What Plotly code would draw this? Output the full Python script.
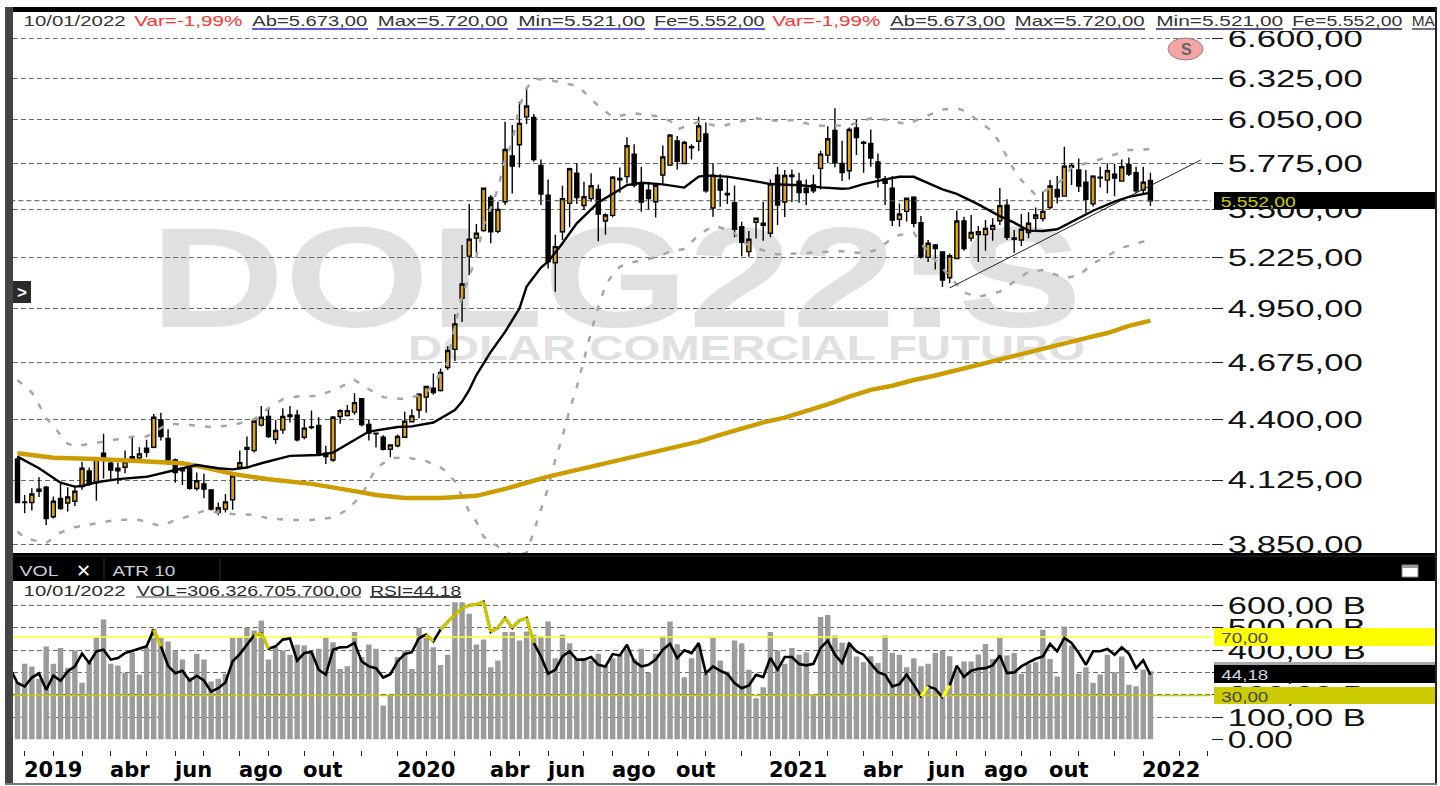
import json
import pandas as pd
import plotly.graph_objects as go

start = pd.Timestamp("2018-12-31")
dates = [start + pd.Timedelta(days=7 * i) for i in range(159)]

opens = [4217,4030,4027,4076,4093,3967,4045,4025,4033,4096,4165,4113,4244,4199,4166,4181,4229,4223,4267,4271,
4397,4311,4214,4177,4177,4088,4108,4082,3985,3999,4039,4181,4270,4256,4373,4413,4308,4351,4421,4419,
4317,4365,4371,4244,4214,4413,4418,4434,4497,4376,4336,4317,4262,4278,4317,4389,4444,4505,4548,4537,
4649,4740,5004,5234,5335,5378,5571,5374,5546,5822,5892,6070,6066,5764,5585,5197,5372,5536,5716,5524,
5564,5619,5433,5466,5685,5696,5834,5659,5615,5546,5706,5766,5916,5776,5880,5914,5960,5509,5679,5595,
5540,5401,5259,5426,5408,5363,5704,5544,5705,5669,5627,5645,5746,5828,5983,5777,5732,5998,5909,5901,
5785,5683,5627,5443,5489,5573,5424,5227,5296,5258,5115,5221,5433,5335,5355,5355,5386,5435,5525,5336,
5325,5367,5449,5447,5512,5619,5579,5764,5736,5663,5533,5693,5675,5711,5669,5768,5720,5615,5673]
highs = [4229,4060,4089,4137,4099,4053,4108,4093,4096,4206,4180,4221,4333,4206,4202,4256,4317,4271,4305,4425,
4431,4354,4220,4177,4184,4158,4152,4082,4027,4064,4147,4256,4320,4397,4463,4457,4397,4452,4463,4444,
4397,4441,4410,4278,4416,4447,4468,4524,4500,4397,4339,4326,4282,4330,4436,4447,4524,4559,4620,4645,
4755,4920,5296,5533,5416,5630,5585,5546,6038,6017,6168,6263,6088,5801,5679,5354,5641,5750,5776,5665,
5716,5649,5478,5700,5752,5939,5896,5756,5665,5655,5888,5960,5947,5918,5896,6070,6034,5776,5712,5696,
5643,5429,5376,5449,5544,5679,5756,5736,5740,5720,5679,5707,5855,6010,6125,5918,6002,6049,5918,5989,
5838,5699,5699,5536,5571,5579,5462,5325,5302,5260,5249,5493,5458,5468,5404,5439,5449,5627,5560,5382,
5474,5485,5512,5606,5675,5699,5880,5777,5807,5736,5705,5756,5777,5773,5801,5813,5756,5756,5720]
lows = [4025,3982,3993,4051,3932,3959,3996,3989,4013,4082,4099,4035,4132,4125,4108,4155,4206,4214,4226,4267,
4302,4191,4113,4103,4082,4079,4046,3993,3973,3985,3996,4172,4177,4247,4367,4314,4287,4333,4385,4297,
4308,4354,4236,4196,4206,4379,4413,4421,4367,4302,4270,4256,4226,4271,4313,4385,4405,4431,4516,4532,
4637,4682,4880,5130,5249,5372,5306,5363,5526,5595,5752,6024,5787,5526,5166,5040,5325,5397,5533,5497,
5546,5317,5354,5455,5599,5655,5630,5487,5501,5453,5651,5760,5740,5772,5801,5853,5599,5458,5516,5533,
5340,5234,5231,5333,5321,5340,5410,5456,5544,5540,5527,5596,5619,5777,5753,5669,5679,5828,5720,5756,
5631,5527,5404,5401,5430,5397,5221,5201,5160,5067,5085,5221,5264,5316,5201,5264,5321,5410,5325,5253,
5291,5335,5382,5430,5501,5536,5575,5645,5604,5478,5518,5631,5596,5579,5665,5699,5596,5596,5521]
closes = [4027,4027,4064,4085,3959,4033,4002,4051,4076,4177,4108,4217,4226,4169,4177,4206,4220,4241,4248,4410,
4320,4214,4158,4166,4089,4122,4085,3999,4005,4030,4143,4202,4262,4392,4410,4320,4348,4413,4413,4305,
4359,4362,4244,4229,4410,4441,4441,4479,4376,4336,4333,4262,4282,4320,4391,4416,4519,4556,4527,4625,
4734,4870,5081,5329,5363,5626,5372,5501,5863,5760,6028,6140,5801,5591,5203,5287,5564,5744,5571,5575,
5641,5474,5468,5692,5677,5886,5645,5544,5564,5643,5817,5953,5789,5907,5874,6012,5611,5704,5615,5587,
5386,5312,5329,5449,5420,5651,5526,5703,5697,5600,5600,5611,5834,5930,5781,5720,5989,5937,5901,5809,
5691,5655,5439,5474,5566,5420,5231,5306,5276,5103,5236,5433,5276,5367,5372,5391,5408,5523,5340,5329,
5386,5420,5468,5489,5639,5575,5760,5752,5639,5560,5699,5687,5732,5687,5756,5711,5611,5663,5552]

ma20_k = [0,3,6,8,9,11,14,18,22,25,28,30,32,34,38,42,44,47,49,53,55,58,61,62,63,64,66,68,69,70,71,73,74,76,78,81,84,85,87,90,93,95,96,99,102,105,108,109,112,115,116,118,121,123,125,129,131,134,137,139,141,143,145,148,150,153,155,158]
ma20_v = [4229,4177,4113,4096,4099,4115,4129,4139,4169,4191,4177,4172,4180,4199,4232,4236,4247,4305,4343,4364,4367,4385,4444,4484,4540,4612,4727,4829,4890,4950,5067,5171,5203,5306,5420,5542,5619,5645,5659,5649,5630,5696,5702,5696,5675,5651,5645,5645,5631,5623,5625,5651,5679,5695,5695,5619,5592,5530,5462,5424,5378,5376,5386,5449,5493,5546,5575,5600]
ma200_k = [0,5,11,18,23,26,30,35,41,46,50,54,59,64,66,68,71,74,77,80,83,86,89,92,95,98,101,104,107,110,113,116,119,122,125,128,131,134,137,140,143,146,149,152,155,158]
ma200_v = [4244,4224,4218,4209,4199,4181,4152,4128,4108,4082,4060,4047,4047,4056,4070,4086,4113,4140,4162,4184,4206,4230,4251,4270,4297,4328,4359,4386,4408,4438,4470,4508,4540,4560,4588,4610,4637,4662,4690,4717,4745,4772,4797,4823,4860,4887]
bb_up_k = [0,2,3,4,5,6,7,8,11,14,16,18,21,24,27,30,33,35,37,39,42,45,47,49,51,54,57,59,60,61,62,63,64,65,66,67,68,69,70,71,72,74,76,78,79,81,83,86,89,91,92,95,98,100,103,106,108,111,113,116,119,121,124,126,128,129,131,132,134,136,137,138,139,140,142,144,146,147,150,152,155,158]
bb_up_v = [4588,4527,4468,4405,4369,4328,4287,4275,4290,4308,4319,4320,4379,4374,4364,4373,4400,4452,4495,4508,4511,4553,4588,4543,4505,4495,4524,4620,4677,4865,5015,5120,5231,5410,5507,5625,5797,5911,6140,6256,6323,6312,6295,6272,6234,6140,6070,6092,6075,6045,5989,6038,6006,6032,6060,6043,6049,6018,6010,6016,6060,6053,6022,6060,6096,6118,6125,6110,6045,5975,5901,5817,5736,5675,5585,5625,5685,5756,5787,5817,5859,5865]
bb_lo_k = [0,1,4,6,8,11,14,17,20,22,24,26,30,33,35,38,41,44,46,48,49,50,52,54,57,59,60,61,62,63,64,65,67,69,71,72,73,74,75,76,77,78,79,80,81,82,83,84,85,87,89,91,93,95,96,97,99,100,101,103,106,109,112,115,118,120,122,123,125,126,128,130,132,134,137,139,141,143,146,148,150,152,154,156,158]
bb_lo_v = [3905,3878,3857,3901,3923,3940,3955,3953,3928,3953,3970,3992,3978,3975,3960,3953,3953,3964,3996,4060,4118,4177,4221,4226,4209,4180,4158,4118,4053,3989,3946,3884,3842,3808,3817,3904,3991,4091,4214,4320,4444,4555,4687,4830,4960,5072,5135,5175,5194,5212,5227,5259,5274,5354,5382,5405,5386,5363,5315,5278,5244,5249,5255,5262,5249,5272,5335,5353,5367,5306,5212,5120,5035,5012,5040,5094,5148,5157,5115,5126,5194,5236,5280,5306,5325]
trend_k = [130,165]
trend_v = [5060,5797]
last_price = 5552

volume = [257,339,327,272,416,339,410,321,398,254,346,455,537,339,331,299,391,291,413,496,455,439,398,358,279,384,358,260,272,294,455,455,500,488,533,358,413,398,379,424,421,388,406,455,436,316,328,481,369,425,406,152,197,369,
398,316,500,466,413,334,379,615,615,563,425,448,324,354,481,481,443,484,469,463,528,364,469,431,361,364,354,384,331,364,384,406,361,406,299,384,463,528,427,279,364,421,294,455,354,304,443,431,312,185,234,481,398,339,410,379,
391,201,548,558,466,433,433,372,346,373,343,466,388,379,324,364,328,339,387,398,373,309,349,349,381,428,361,455,376,387,294,339,346,491,361,282,506,421,294,324,254,291,379,301,372,245,239,313,306]
rsi = [48.3,38.5,36.2,42.3,45.1,33.9,43.5,40.1,46.5,49.9,58.6,52.2,60.2,61.3,54.5,55.6,59.0,60.6,62.0,63.6,75.0,63.6,50.3,45.3,46.9,40.1,43.5,40.3,32.7,35.0,38.9,53.3,58.3,64.7,71.1,72.5,62.0,63.6,68.2,68.9,53.8,59.0,59.7,47.6,44.2,61.3,62.9,63.1,65.9,53.3,49.9,48.7,42.3,44.6,53.3,
58.3,59.7,69.3,71.6,67.0,75.0,80.3,85.3,89.4,91.7,92.2,94.0,73.4,76.2,83.0,76.2,81.2,83.0,65.9,56.7,44.9,47.6,56.7,60.2,54.5,54.5,56.3,51.0,49.9,58.3,57.4,64.7,53.3,49.9,51.0,54.5,61.3,65.4,55.6,60.9,59.0,65.9,45.3,49.9,46.9,44.9,38.5,35.0,36.9,44.2,42.6,55.6,47.6,56.3,56.3,51.5,
50.6,51.7,62.5,67.5,57.9,52.2,65.4,60.2,57.9,52.2,46.0,44.2,36.2,37.8,44.2,37.3,29.6,36.2,34.6,28.9,36.9,50.3,42.6,46.9,48.3,48.7,50.6,57.4,45.3,45.8,49.9,52.6,55.1,56.7,65.2,60.2,69.3,65.9,59.0,51.0,60.2,60.2,61.8,57.9,62.9,58.6,48.7,54.0,44.18]

price_ticks = [3850,4125,4400,4675,4950,5225,5500,5775,6050,6325,6600]
price_labels = ["3.850,00","4.125,00","4.400,00","4.675,00","4.950,00","5.225,00","5.500,00","5.775,00","6.050,00","6.325,00","6.600,00"]
vol_ticks = [0,100,200,300,400,500,600]
vol_labels = ["0.00","100,00 B","200,00 B","300,00 B","400,00 B","500,00 B","600,00 B"]
month_labels = [("2019-01-07","2019"),("2019-04-01","abr"),("2019-06-03","jun"),("2019-08-05","ago"),("2019-10-07","out"),
                ("2020-01-06","2020"),("2020-04-06","abr"),("2020-06-01","jun"),("2020-08-03","ago"),("2020-10-05","out"),
                ("2021-01-04","2021"),("2021-04-05","abr"),("2021-06-07","jun"),("2021-08-02","ago"),("2021-10-04","out"),("2022-01-03","2022")]

assert len(opens) == len(highs) == len(lows) == len(closes) == 159, (len(opens), len(highs), len(lows), len(closes))
assert len(volume) == 159 and len(rsi) == 160, (len(volume), len(rsi))
assert len(ma20_k) == len(ma20_v) and len(ma200_k) == len(ma200_v), (len(ma20_k), len(ma20_v), len(ma200_k), len(ma200_v))
assert len(bb_up_k) == len(bb_up_v) and len(bb_lo_k) == len(bb_lo_v), (len(bb_up_k), len(bb_up_v), len(bb_lo_k), len(bb_lo_v))

W, H = 1440, 786
def xp(v): return v / W
def yp(v): return 1 - v / H
def wk(i): return start + pd.Timedelta(days=7 * i)

X_LEFT, X_RIGHT = 13, 1211
x_range = [wk(-0.628), wk(166.45)]

GRID = "#6a6a6a"
GOLD = "#DCA414"
fig = go.Figure()

# upper panel
fig.add_trace(go.Scatter(x=[wk(-1), wk(167)], y=[last_price, last_price], mode="lines",
                         line=dict(color="#555", width=1, dash="5px,3px"), xaxis="x", yaxis="y"))
fig.add_trace(go.Candlestick(x=dates, open=opens, high=highs, low=lows, close=closes,
                             increasing=dict(line=dict(color="#000", width=1.4), fillcolor=GOLD),
                             decreasing=dict(line=dict(color="#000", width=1.4), fillcolor="#000"),
                             whiskerwidth=0, xaxis="x", yaxis="y"))
for ks, vs in ((bb_up_k, bb_up_v), (bb_lo_k, bb_lo_v)):
    fig.add_trace(go.Scatter(x=[wk(k) for k in ks], y=vs, mode="lines",
                             line=dict(color="#a6a6a6", width=2.5, dash="6px,10px"), xaxis="x", yaxis="y"))
fig.add_trace(go.Scatter(x=[wk(k) for k in ma200_k], y=ma200_v, mode="lines",
                         line=dict(color="#CC9C00", width=4.5), xaxis="x", yaxis="y"))
fig.add_trace(go.Scatter(x=[wk(k) for k in ma20_k], y=ma20_v, mode="lines",
                         line=dict(color="#000", width=2.4, shape="linear"), xaxis="x", yaxis="y"))
fig.add_trace(go.Scatter(x=[wk(k) for k in trend_k], y=trend_v, mode="lines",
                         line=dict(color="#222", width=1), xaxis="x", yaxis="y"))

# lower panel
fig.add_trace(go.Bar(x=dates, y=volume, marker=dict(color="#9b9b9b", line=dict(width=0)),
                     width=7 * 24 * 3600 * 1000 * 0.76, xaxis="x2", yaxis="y2"))
rsi_x = [wk(-1)] + dates
fig.add_trace(go.Scatter(x=[wk(-1), wk(167)], y=[70, 70], mode="lines", line=dict(color="#FFFF33", width=1.6), xaxis="x2", yaxis="y3"))
fig.add_trace(go.Scatter(x=[wk(-1), wk(167)], y=[30, 30], mode="lines", line=dict(color="#CCCC00", width=1.6), xaxis="x2", yaxis="y3"))
fig.add_trace(go.Scatter(x=rsi_x, y=rsi, mode="lines", line=dict(color="#000", width=2.6), xaxis="x2", yaxis="y3"))
for test, col in ((lambda v: v > 70, "#CFC800"), (lambda v: v < 30, "#FFFF20")):
    sx, sy = [], []
    for i in range(len(rsi) - 1):
        if test(rsi[i]):
            sx += [rsi_x[i], rsi_x[i + 1], None]
            sy += [rsi[i], rsi[i + 1], None]
    fig.add_trace(go.Scatter(x=sx, y=sy, mode="lines", line=dict(color=col, width=3.2), xaxis="x2", yaxis="y3"))

shapes, anns, stretch = [], [], {}
def rect(x0, y0, x1, y1, fill, line=None, layer="above", kind="rect", **kw):
    shapes.append(dict(type=kind, xref="paper", yref="paper", x0=xp(x0), x1=xp(x1), y0=yp(y0), y1=yp(y1),
                       fillcolor=fill, line=dict(color=line or fill, width=1 if line else 0), layer=layer, **kw))
def hline(x0, x1, y, color, width=1):
    shapes.append(dict(type="line", xref="paper", yref="paper", x0=xp(x0), x1=xp(x1), y0=yp(y), y1=yp(y),
                       line=dict(color=color, width=width), layer="above"))
def vline(x, y0, y1, color, width=1):
    shapes.append(dict(type="line", xref="paper", yref="paper", x0=xp(x), x1=xp(x), y0=yp(y0), y1=yp(y1),
                       line=dict(color=color, width=width), layer="above"))
def txt(x0, x1, y, text, size, color="#2b2b2b", family="Liberation Sans", fit=True):
    anns.append(dict(xref="paper", yref="paper", x=xp((x0 + x1) / 2), y=yp(y), text=text, showarrow=False,
                     xanchor="center", yanchor="middle", font=dict(family=family, size=size, color=color)))
    if fit:
        stretch[text] = x1 - x0

# watermark under grid and candles
for (x0, x1, y0, y1, text, size) in ((150, 1082, 211, 317, "DOLG22:S", 142), (408, 1085, 329, 359, "DOLAR COMERCIAL FUTURO", 35)):
    shapes.append(dict(type="rect", xref="paper", yref="paper", x0=xp(x0), x1=xp(x1), y0=yp(y1), y1=yp(y0),
                       line=dict(width=0), fillcolor="rgba(0,0,0,0)", layer="below",
                       label=dict(text="<b>" + text + "</b>", textposition="middle center",
                                  font=dict(family="Liberation Sans", size=size, color="#E0E0E0"))))
    stretch[text] = x1 - x0

# masks over clipped tick labels
rect(1214, 12, 1435, 31, "#fff")
rect(1214, 581, 1435, 597, "#fff")

# price badge
rect(1214, 192, 1437, 209, "#000")
txt(1220, 1295, 201, "5.552,00", 15, "#CFCF00")

# header band between panels
rect(13, 553, 1436, 581, "#000")
vline(104, 558, 581, "#333")
vline(220, 558, 581, "#333")
hline(13, 1436, 556, "#2a2a2a", 1)
txt(19, 58, 570, "VOL", 15, "#c8d0d8")
txt(73, 93, 570, "<b>✕</b>", 18, "#fff", family="DejaVu Sans", fit=False)
txt(112, 175, 570, "ATR 10", 15, "#c8d0d8")
rect(1402, 565, 1418, 577, "#fff", line="#888")
rect(1402, 565, 1418, 568, "#999")

# RSI level boxes
rect(1214, 628, 1436, 646, "#FFFF00")
txt(1221, 1268, 637, "70,00", 15, "#444")
rect(1214, 662, 1436, 665, "#aaa")
rect(1214, 665, 1436, 683, "#000")
txt(1221, 1268, 674, "44,18", 15, "#cfd8e0")
rect(1214, 687, 1436, 704, "#CCCC00")
txt(1221, 1268, 696, "30,00", 15, "#444")

# frame
rect(5, 7, 1437, 12, "#000")
rect(5, 7, 13, 784, "#444")
rect(1435, 7, 1437, 784, "#222")
rect(5, 783, 1437, 785, "#777")

# side arrow and S badge
rect(13, 281, 31, 303, "#2a2a2a")
txt(16, 28, 292, "<b>&gt;</b>", 17, "#fff", fit=False)
rect(1168, 38, 1203, 60, "#F5A3A3", line="#8a8a8a", kind="circle")
txt(1178, 1194, 50, "<b>S</b>", 16, "#666", fit=False)

# info lines
for (a, b, text, col) in ((23, 125, "10/01/2022", "#333"), (135, 242, "Var=-1,99%", "#FF3333"),
                          (252, 368, "Ab=5.673,00", "#333"), (377, 508, "Max=5.720,00", "#333"),
                          (517, 645, "Min=5.521,00", "#333"), (654, 765, "Fe=5.552,00", "#333"),
                          (772, 880, "Var=-1,99%", "#FF3333"), (890, 1005, "Ab=5.673,00", "#333"),
                          (1015, 1145, "Max=5.720,00", "#333"), (1156, 1283, "Min=5.521,00", "#333"),
                          (1292, 1402, "Fe=5.552,00", "#333"), (1412, 1435, "MA", "#333")):
    txt(a, b, 21, text, 15, col)
for a, b in ((252, 368), (377, 508), (517, 645), (654, 765)):
    hline(a, b, 29, "#2222DD", 1.3)
for a, b in ((890, 1005), (1015, 1145), (1156, 1283), (1292, 1402), (1412, 1435)):
    hline(a, b, 29, "#222255", 1.3)
txt(23, 125, 590, "10/01/2022", 15)
txt(136, 361, 590, "VOL=306.326.705.700,00", 15)
txt(370, 461, 590, "RSI=44,18", 15)
hline(136, 361, 597, "#888", 1.3)
hline(370, 461, 597, "#000", 1.3)

# month labels
for d, lab in month_labels:
    anns.append(dict(xref="x2", yref="paper", x=d, y=yp(770), text="<b>" + lab + "</b>", showarrow=False,
                     xanchor="left", yanchor="middle", xshift=-3,
                     font=dict(family="DejaVu Sans", size=21, color="#000")))

ext_dates = [wk(i) for i in range(-1, 170)]
month_ticks = [d for p, d in zip(ext_dates, ext_dates[1:]) if d.month != p.month and wk(0) < d < wk(166.4)]

for v in price_labels:
    stretch[v] = 135
for v in vol_labels:
    stretch[v] = 65 if v == "0.00" else 138

axis_font = dict(family="Liberation Sans", size=24, color="#111")
fig.update_layout(
    width=W, height=H, margin=dict(l=0, r=0, t=0, b=0, autoexpand=False), paper_bgcolor="#fff", plot_bgcolor="rgba(0,0,0,0)",
    showlegend=False, barmode="overlay", hovermode=False, boxgap=0.2,
    shapes=shapes, annotations=anns,
    xaxis=dict(domain=[xp(X_LEFT), xp(X_RIGHT)], range=x_range, type="date", anchor="y", showgrid=False,
               showticklabels=False, ticks="", rangeslider=dict(visible=False), showline=False, zeroline=False),
    yaxis=dict(domain=[yp(553), yp(30)], type="log", range=[3.5817, 3.8233], anchor="x", side="right",
               tickmode="array", tickvals=price_ticks, ticktext=price_labels, ticks="outside", ticklen=11,
               tickcolor="#222", tickfont=axis_font, showgrid=True, gridcolor=GRID, griddash="5px,3px", gridwidth=1,
               showline=False, zeroline=False),
    xaxis2=dict(domain=[xp(X_LEFT), xp(X_RIGHT)], range=x_range, type="date", anchor="free", position=yp(750),
                tickmode="array", tickvals=month_ticks, ticks="outside", ticklen=5, tickcolor="#222",
                showticklabels=False, showgrid=False, showline=False, zeroline=False),
    yaxis2=dict(domain=[yp(739.5), yp(593)], range=[0, 656], anchor="x2", side="right",
                tickmode="array", tickvals=vol_ticks, ticktext=vol_labels, ticks="outside", ticklen=11,
                tickcolor="#222", tickfont=axis_font, showgrid=True, gridcolor=GRID, griddash="5px,3px", gridwidth=1,
                showline=False, zeroline=False),
    yaxis3=dict(domain=[yp(739.5), yp(593)], range=[0, 100], overlaying="y2", side="right", anchor="x2",
                showgrid=False, showticklabels=False, ticks="", showline=False, zeroline=False),
)

post = """
(function(){
  document.body.style.margin='0';
  document.documentElement.style.overflow='hidden';
  var W=%s;
  function fit(){
    document.querySelectorAll('svg text').forEach(function(t){
      var w=W[t.textContent];
      if(w){t.setAttribute('textLength',w);t.setAttribute('lengthAdjust','spacingAndGlyphs');}
    });
  }
  fit();setTimeout(fit,50);setTimeout(fit,300);
})();
""" % json.dumps(stretch)
fig.write_html("out.html", post_script=post, config=dict(displayModeBar=False))
